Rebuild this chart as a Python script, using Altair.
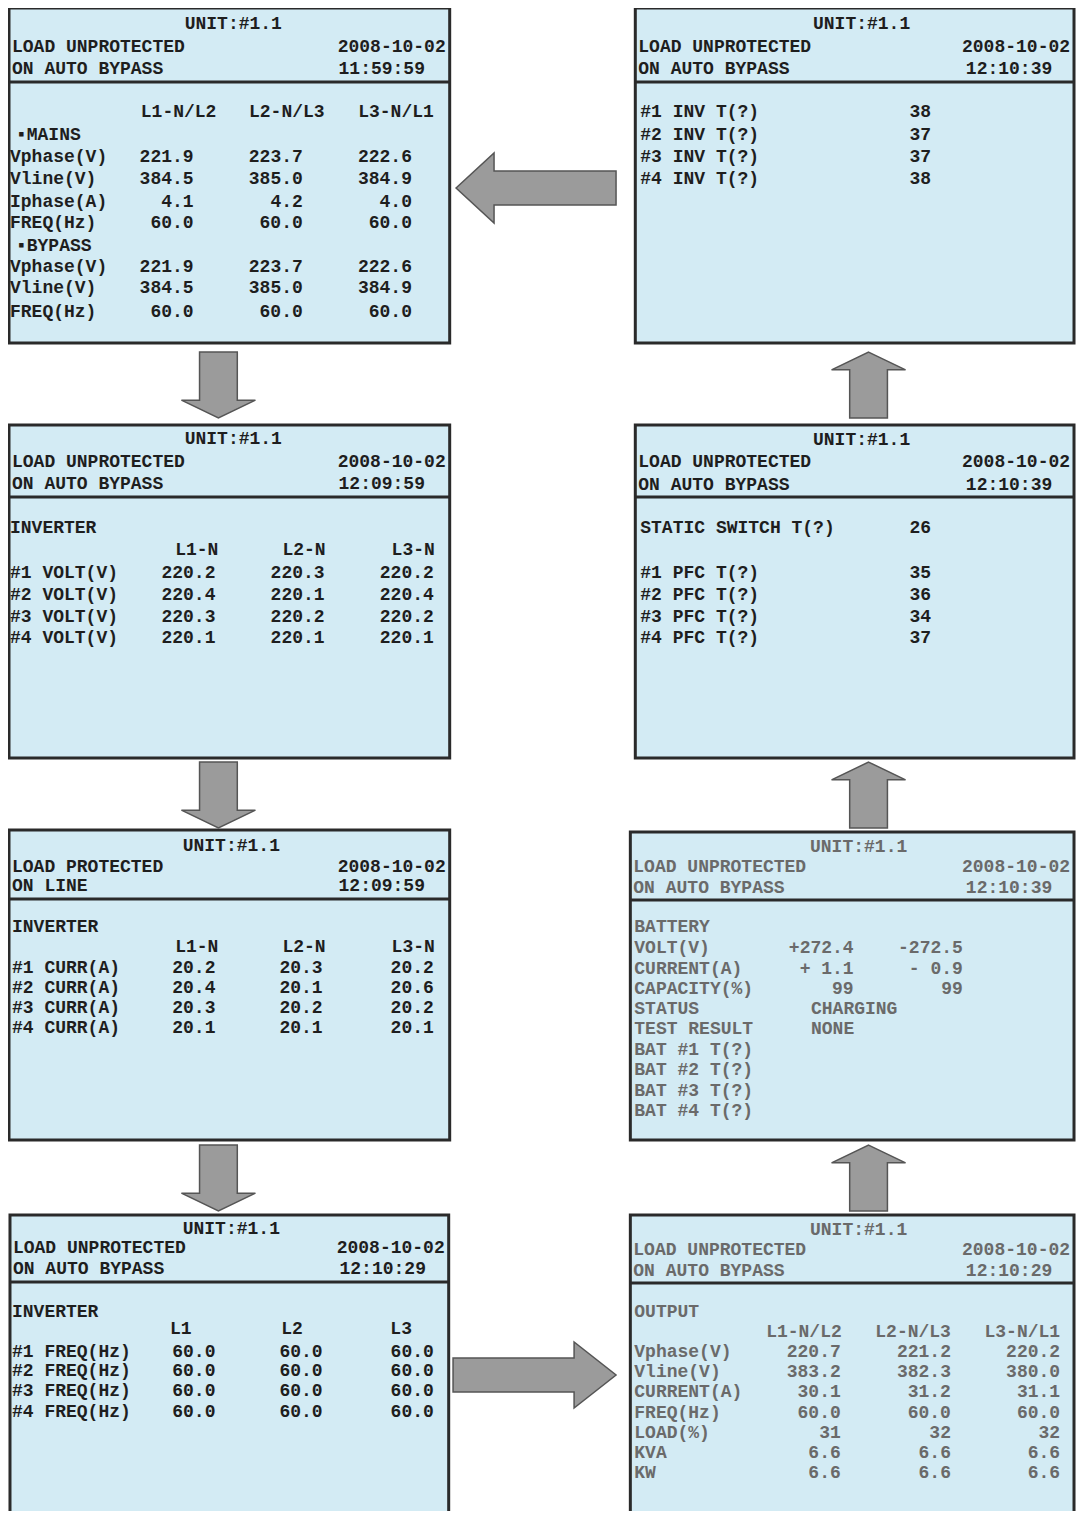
import altair as alt
import pandas as pd

# ---------------- panel frames (8 LCD screens) ----------------
panel_names   = ["mains", "inv_volt", "inv_curr", "inv_freq", "output", "battery", "pfc_temp", "inv_temp"]
panel_left    = [9, 9, 9, 10, 635, 635, 640, 640]
panel_right   = [453, 453, 453, 452, 1082, 1082, 1082, 1082]
panel_top     = [8, 425, 830, 1215, 1215, 832, 425, 8]
panel_bottom  = [343, 758, 1140, 1530, 1530, 1140, 758, 343]
panel_divider = [82, 497, 899, 1282, 1283, 900, 497, 82]
panel_style   = ["bold", "bold", "bold", "bold", "light", "light", "bold", "bold"]

# ---------------- header texts ----------------
unit_label = "UNIT:#1.1"
status_1 = ["LOAD UNPROTECTED", "LOAD UNPROTECTED", "LOAD PROTECTED", "LOAD UNPROTECTED",
            "LOAD UNPROTECTED", "LOAD UNPROTECTED", "LOAD UNPROTECTED", "LOAD UNPROTECTED"]
status_2 = ["ON AUTO BYPASS", "ON AUTO BYPASS", "ON LINE", "ON AUTO BYPASS",
            "ON AUTO BYPASS", "ON AUTO BYPASS", "ON AUTO BYPASS", "ON AUTO BYPASS"]
dates = ["2008-10-02"] * 8
times = ["11:59:59", "12:09:59", "12:09:59", "12:10:29", "12:10:29", "12:10:39", "12:10:39", "12:10:39"]
header_y = [(24, 47, 69), (439, 462, 484), (846, 867, 886), (1229, 1248, 1269),
            (1230, 1250, 1271), (847, 867, 888), (440, 462, 485), (24, 47, 69)]
unit_x = [235, 235, 233, 233, 865, 865, 868, 868]
time_x = [341, 341, 341, 342, 973, 973, 973, 973]

# ---------------- MAINS / BYPASS screen ----------------
mains_cols = ["L1-N/L2", "L2-N/L3", "L3-N/L1"]
mains_rows = ["\u25aaMAINS", "Vphase(V)", "Vline(V)", "Iphase(A)", "FREQ(Hz)",
              "\u25aaBYPASS", "Vphase(V)", "Vline(V)", "FREQ(Hz)"]
mains_L1 = ["", "221.9", "384.5", "4.1", "60.0", "", "221.9", "384.5", "60.0"]
mains_L2 = ["", "223.7", "385.0", "4.2", "60.0", "", "223.7", "385.0", "60.0"]
mains_L3 = ["", "222.6", "384.9", "4.0", "60.0", "", "222.6", "384.9", "60.0"]

# ---------------- INVERTER voltage screen ----------------
inv_volt_cols = ["L1-N", "L2-N", "L3-N"]
inv_volt_rows = ["#1 VOLT(V)", "#2 VOLT(V)", "#3 VOLT(V)", "#4 VOLT(V)"]
inv_volt_L1 = ["220.2", "220.4", "220.3", "220.1"]
inv_volt_L2 = ["220.3", "220.1", "220.2", "220.1"]
inv_volt_L3 = ["220.2", "220.4", "220.2", "220.1"]

# ---------------- INVERTER current screen ----------------
inv_curr_cols = ["L1-N", "L2-N", "L3-N"]
inv_curr_rows = ["#1 CURR(A)", "#2 CURR(A)", "#3 CURR(A)", "#4 CURR(A)"]
inv_curr_L1 = ["20.2", "20.4", "20.3", "20.1"]
inv_curr_L2 = ["20.3", "20.1", "20.2", "20.1"]
inv_curr_L3 = ["20.2", "20.6", "20.2", "20.1"]

# ---------------- INVERTER frequency screen ----------------
inv_freq_cols = ["L1", "L2", "L3"]
inv_freq_rows = ["#1 FREQ(Hz)", "#2 FREQ(Hz)", "#3 FREQ(Hz)", "#4 FREQ(Hz)"]
inv_freq_L1 = ["60.0", "60.0", "60.0", "60.0"]
inv_freq_L2 = ["60.0", "60.0", "60.0", "60.0"]
inv_freq_L3 = ["60.0", "60.0", "60.0", "60.0"]

# ---------------- OUTPUT screen ----------------
output_cols = ["L1-N/L2", "L2-N/L3", "L3-N/L1"]
output_rows = ["Vphase(V)", "Vline(V)", "CURRENT(A)", "FREQ(Hz)", "LOAD(%)", "KVA", "KW"]
output_L1 = ["220.7", "383.2", "30.1", "60.0", "31", "6.6", "6.6"]
output_L2 = ["221.2", "382.3", "31.2", "60.0", "32", "6.6", "6.6"]
output_L3 = ["220.2", "380.0", "31.1", "60.0", "32", "6.6", "6.6"]

# ---------------- BATTERY screen ----------------
battery_rows = ["VOLT(V)", "CURRENT(A)", "CAPACITY(%)", "STATUS", "TEST RESULT",
                "BAT #1 T(?)", "BAT #2 T(?)", "BAT #3 T(?)", "BAT #4 T(?)"]
battery_pos = ["+272.4", "+  1.1", "99", "", "", "", "", "", ""]
battery_neg = ["-272.5", "-  0.9", "99", "", "", "", "", "", ""]
battery_state = ["", "", "", "CHARGING", "NONE", "", "", "", ""]

# ---------------- temperature screens ----------------
static_switch_label = "STATIC SWITCH T(?)"
static_switch_temp = "26"
pfc_rows = ["#1 PFC T(?)", "#2 PFC T(?)", "#3 PFC T(?)", "#4 PFC T(?)"]
pfc_temp = ["35", "36", "34", "37"]
inv_temp_rows = ["#1 INV T(?)", "#2 INV T(?)", "#3 INV T(?)", "#4 INV T(?)"]
inv_temp = ["38", "37", "37", "38"]

# ---------------- flow arrows ----------------
arrow_x = [540, 220, 220, 220, 538.5, 875, 875, 875]
arrow_y = [188, 385, 795, 1178, 1375, 1178, 795, 385]
arrow_dir = ["left", "down", "down", "down", "right", "up", "up", "up"]
arrow_paths = {
    "left":  "M-1,0L-0.525,-0.4375L-0.525,-0.2125L1,-0.2125L1,0.2125L-0.525,0.2125L-0.525,0.4375Z",
    "right": "M-1,-0.21L0.485,-0.21L0.485,-0.405L1,0L0.485,0.405L0.485,0.21L-1,0.21Z",
    "down":  "M-0.51,-0.89L0.51,-0.89L0.51,0.41L1,0.41L0,0.89L-1,0.41L-0.51,0.41Z",
    "up":    "M0,-0.89L1,-0.41L0.51,-0.41L0.51,0.89L-0.51,0.89L-0.51,-0.41L-1,-0.41Z",
}
arrow_sizes = {"left": 160 ** 2, "right": 163 ** 2, "down": 74 ** 2, "up": 74 ** 2}

# ================= build tables =================
texts = []


def add(x, y, text, align, style):
    if text:
        texts.append(dict(x=x, y=y, text=text, align=align, style=style))


# headers
for i in range(8):
    st = panel_style[i]
    y0, y1, y2 = header_y[i]
    add(unit_x[i], y0, unit_label, "center", st)
    add(panel_left[i] + 3, y1, status_1[i], "left", st)
    add(panel_left[i] + 3, y2, status_2[i], "left", st)
    add(panel_right[i] - 4, y1, dates[i], "right", st)
    add(time_x[i], y2, times[i], "left", st)


def add_table(lx, rows, row_y, cols, col_y, col_rx, values, val_rx, st, section=None, section_y=None):
    if section:
        add(lx, section_y, section, "left", st)
    for c, cx in zip(cols, col_rx):
        add(cx, col_y, c, "right", st)
    for r, ry in zip(rows, row_y):
        add(lx + (6 if r.startswith("\u25aa") else 0), ry, r, "left", st)
    for vals, vx in zip(values, val_rx):
        for v, ry in zip(vals, row_y):
            add(vx, ry, v, "right", st)


add_table(10, mains_rows, [135, 157, 179, 202, 223, 246, 267, 288, 312],
          mains_cols, 112, [218, 327, 437], [mains_L1, mains_L2, mains_L3], [195, 305, 415], "bold")
add_table(10, inv_volt_rows, [573, 595, 617, 638], inv_volt_cols, 550, [220, 328, 438],
          [inv_volt_L1, inv_volt_L2, inv_volt_L3], [217, 327, 437], "bold", "INVERTER", 528)
add_table(12, inv_curr_rows, [968, 988, 1008, 1028], inv_curr_cols, 947, [220, 328, 438],
          [inv_curr_L1, inv_curr_L2, inv_curr_L3], [217, 325, 437], "bold", "INVERTER", 927)
add_table(12, inv_freq_rows, [1352, 1371, 1391, 1412], inv_freq_cols, 1329, [193, 305, 415],
          [inv_freq_L1, inv_freq_L2, inv_freq_L3], [217, 325, 437], "bold", "INVERTER", 1312)
add_table(639, output_rows, [1352, 1372, 1392, 1413, 1433, 1453, 1473], output_cols, 1332,
          [848, 958, 1068], [output_L1, output_L2, output_L3], [847, 958, 1068], "light", "OUTPUT", 1312)
add_table(639, battery_rows, [948, 969, 989, 1009, 1029, 1050, 1070, 1091, 1111], [], 0, [],
          [battery_pos, battery_neg], [860, 970], "light", "BATTERY", 927)
for s, ry in zip(battery_state, [948, 969, 989, 1009, 1029, 1050, 1070, 1091, 1111]):
    add(817, ry, s, "left", "light")
add(645, 528, static_switch_label, "left", "bold")
add(938, 528, static_switch_temp, "right", "bold")
add_table(645, pfc_rows, [573, 595, 617, 638], [], 0, [], [pfc_temp], [938], "bold")
add_table(645, inv_temp_rows, [112, 135, 157, 179], [], 0, [], [inv_temp], [938], "bold")

text_df = pd.DataFrame(texts)
panel_df = pd.DataFrame(dict(name=panel_names, left=panel_left, right=panel_right,
                             top=panel_top, bottom=panel_bottom, divider=panel_divider))
arrow_df = pd.DataFrame(dict(x=arrow_x, y=arrow_y,
                             shape=[arrow_paths[d] for d in arrow_dir],
                             size=[arrow_sizes[d] for d in arrow_dir]))

# ================= chart =================
# page has an 8px margin: plot area spans page pixels 8..1076 horizontally
W, H = 1068, 1503
xs = alt.Scale(domain=[8, 1084], nice=False, zero=False)
ys = alt.Scale(domain=[8, 8 + H], nice=False, zero=False, reverse=True)

LCD_FILL = "#d3ebf4"
FRAME = "#2a2a2a"

frames = alt.Chart(panel_df).mark_rect(fill=LCD_FILL, stroke=FRAME, strokeWidth=3).encode(
    x=alt.X("left:Q", scale=xs, axis=None), x2="right:Q",
    y=alt.Y("top:Q", scale=ys, axis=None), y2="bottom:Q")

dividers = alt.Chart(panel_df).mark_rule(color=FRAME, strokeWidth=3).encode(
    x=alt.X("left:Q", scale=xs, axis=None), x2="right:Q",
    y=alt.Y("divider:Q", scale=ys, axis=None))

arrows = alt.Chart(arrow_df).mark_point(filled=True, fill="#9b9b9b", stroke="#555555",
                                         strokeWidth=1.5, opacity=1).encode(
    x=alt.X("x:Q", scale=xs, axis=None),
    y=alt.Y("y:Q", scale=ys, axis=None),
    shape=alt.Shape("shape:N", scale=None),
    size=alt.Size("size:Q", scale=None))

styles = {
    "bold": dict(font="Liberation Mono", fontWeight="bold", color="#1e1e1e"),
    "light": dict(font="Liberation Mono", fontWeight="bold", color="#6a6a6a"),
}
text_layers = []
for st, props in styles.items():
    for al in ["left", "right", "center"]:
        sub = text_df[(text_df["style"] == st) & (text_df["align"] == al)]
        if len(sub) == 0:
            continue
        text_layers.append(
            alt.Chart(sub).mark_text(align=al, baseline="middle", fontSize=18, **props).encode(
                x=alt.X("x:Q", scale=xs, axis=None),
                y=alt.Y("y:Q", scale=ys, axis=None),
                text="text:N"))

chart = alt.layer(frames, dividers, arrows, *text_layers).properties(
    width=W, height=H, padding=0,
    autosize=alt.AutoSizeParams(type="none"),
    background="white",
).configure_view(stroke=None)

chart.save("out.html", embed_options={"renderer": "svg", "actions": False})
